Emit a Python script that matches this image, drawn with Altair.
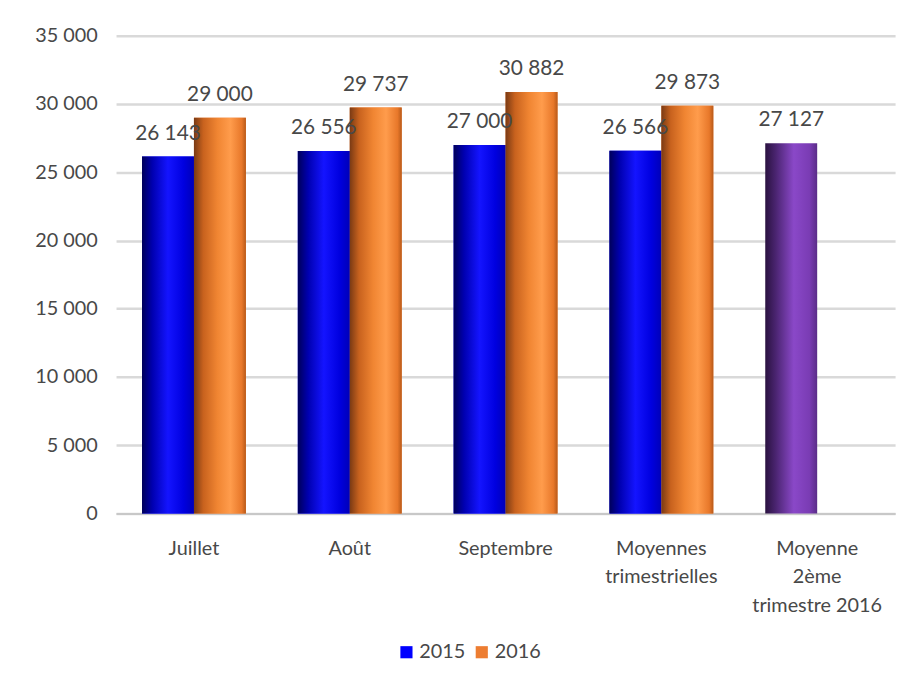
import altair as alt
import pandas as pd

categories = ["Juillet", "Août", "Septembre", "Moyennes|trimestrielles", "Moyenne|2ème|trimestre 2016"]
values_2015 = [26143, 26556, 27000, 26566]
values_2016 = [29000, 29737, 30882, 29873]
value_q2_2016 = 27127
series = ["2015", "2016"]
legend_colors = ["#0000ff", "#ed7d31"]

rows = []
for c, v in zip(categories[:4], values_2015):
    rows.append({"cat": c, "series": "2015", "kind": "2015", "value": v})
for c, v in zip(categories[:4], values_2016):
    rows.append({"cat": c, "series": "2016", "kind": "2016", "value": v})
rows.append({"cat": categories[4], "series": "2015", "kind": "purple", "value": value_q2_2016})
df = pd.DataFrame(rows)

FONT = "Lato"
TXT = "#484848"
FS = 20


def grad(stops):
    return alt.Gradient(
        gradient="linear", x1=0, x2=1, y1=0, y2=0,
        stops=[alt.GradientStop(offset=o, color=c) for o, c in stops],
    )


blue = grad([(0, "#00005a"), (0.2, "#0000b0"), (0.5, "#1414ff"), (0.8, "#0000e0"), (1, "#0000b8")])
orange = grad([(0, "#7a3a14"), (0.18, "#c8621e"), (0.45, "#f08532"), (0.7, "#ff9c4c"), (0.92, "#e8782a"), (1, "#b85a1a")])
purple = grad([(0, "#2a1240"), (0.2, "#4a2470"), (0.55, "#8a48c8"), (0.85, "#7a3cb4"), (1, "#5a2c88")])

x_enc = alt.X(
    "cat:N", sort=categories, title=None,
    scale=alt.Scale(paddingInner=1 / 3, paddingOuter=1 / 6),
    axis=alt.Axis(
        labelExpr="split(datum.label, '|')", labelAngle=0, labelFont=FONT, labelFontSize=FS,
        labelColor=TXT, labelLineHeight=29, labelPadding=25, ticks=False,
        domainColor="#c8c8c8", domainWidth=2, labelBaseline="top",
    ),
)
xo_enc = alt.XOffset("series:N", sort=series, scale=alt.Scale(domain=series, paddingInner=0, paddingOuter=0))
y_enc = alt.Y(
    "value:Q", title=None,
    scale=alt.Scale(domain=[0, 35000]),
    axis=alt.Axis(
        values=list(range(0, 35001, 5000)),
        labelExpr="replace(format(datum.value, ','), ',', ' ')",
        labelFont=FONT, labelFontSize=FS, labelColor=TXT, labelPadding=19,
        ticks=False, domain=False, gridColor="#d9d9d9", gridWidth=2.5,
    ),
)

base = alt.Chart(df).encode(x=x_enc, xOffset=xo_enc, y=y_enc)

legend_layer = base.transform_filter("datum.kind != 'purple'").mark_bar().encode(
    color=alt.Color(
        "series:N", scale=alt.Scale(domain=series, range=legend_colors),
        legend=alt.Legend(
            title=None, orient="none", direction="horizontal", legendX=283, legendY=612,
            symbolType="square", symbolSize=150, symbolStrokeWidth=0, symbolOpacity=1,
            labelFont=FONT, labelFontSize=FS, labelColor=TXT, columnPadding=6, labelOffset=3,
        ),
    )
)

bars_2015 = base.transform_filter("datum.kind == '2015'").mark_bar(fill=blue)
bars_2016 = base.transform_filter("datum.kind == '2016'").mark_bar(fill=orange)
bars_purple = base.transform_filter("datum.kind == 'purple'").mark_bar(fill=purple)

labels = base.transform_calculate(
    label="replace(format(datum.value, ','), ',', ' ')"
).mark_text(font=FONT, fontSize=FS + 1, color=TXT, baseline="bottom", dy=-13).encode(text="label:N")

chart = alt.layer(legend_layer, bars_2015, bars_2016, bars_purple, labels).properties(
    width=786, height=482,
    autosize=alt.AutoSizeParams(type="none"),
    padding={"left": 109, "top": 25, "right": 10, "bottom": 160},
).configure_view(stroke=None)

chart.save("out.html", embed_options={"renderer": "svg", "actions": False})
